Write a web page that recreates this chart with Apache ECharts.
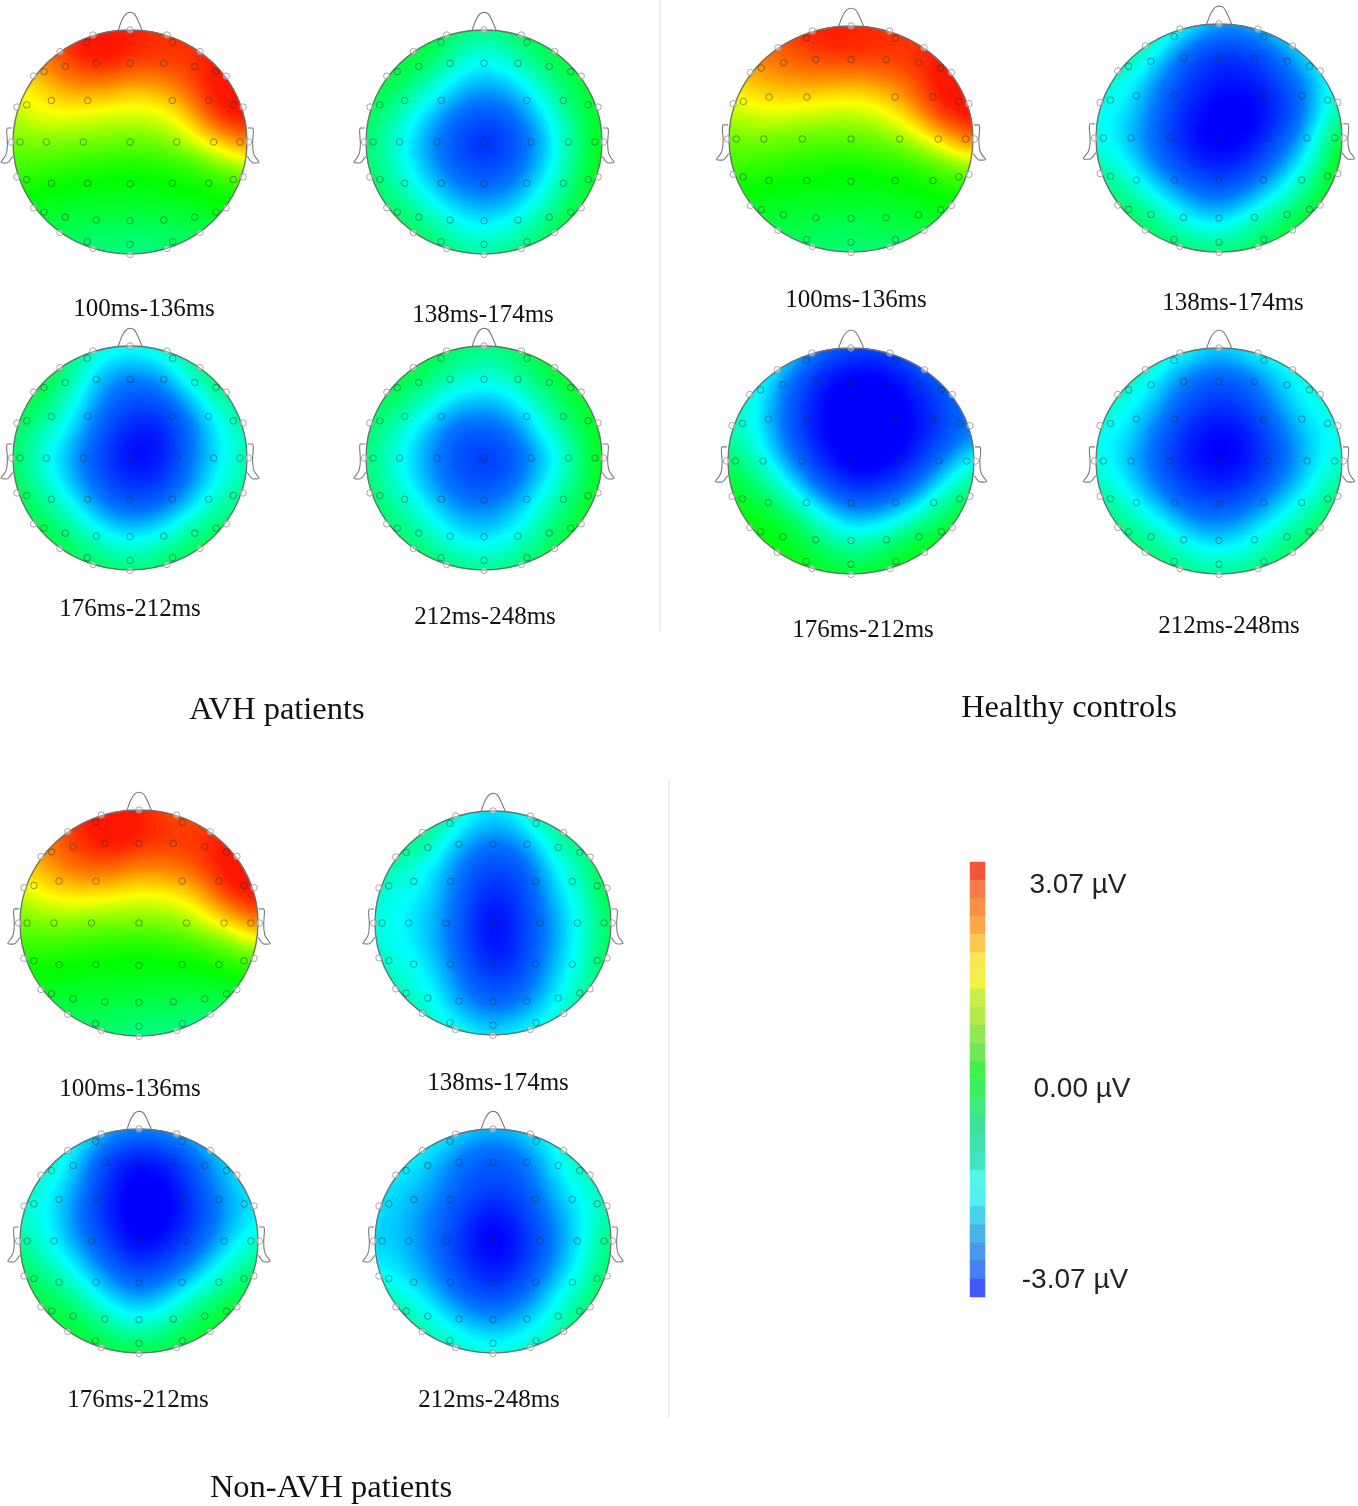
<!DOCTYPE html>
<html><head><meta charset="utf-8">
<style>html,body{margin:0;padding:0;background:#fff}#c{width:1358px;height:1506px}</style>
<script src="https://cdn.jsdelivr.net/npm/echarts@6/dist/echarts.min.js"></script>
</head><body><div id="c"></div>
<script>
const avh100=[[1.8,2.2,2.6,2.9,2.6,2.5,2.4,2.4,2.4],[1.6,2.0,2.5,2.9,2.6,2.5,2.5,2.7,2.7],[1.1,1.4,1.85,1.85,1.6,1.7,2.2,2.9,2.95],[.8,1.15,1.1,1,.95,1,1.45,2.7,2.85],[.5,.6,.55,.5,.45,.5,.85,1.4,2.0],[.3,.2,.1,.05,0,.05,.1,.3,.6],[0,-.05,-.1,-.1,-.1,-.1,-.05,0,.1],[-.3,-.3,-.3,-.35,-.4,-.35,-.3,-.25,-.2],[-.5,-.5,-.5,-.55,-.6,-.55,-.5,-.5,-.5]];
const avh138=[[-.3,-.2,-.2,-.4,-.6,-.4,-.2,-.2,-.2],[-.2,-.15,-.25,-.75,-1.1,-.8,-.35,-.2,-.1],[-.2,-.35,-.75,-1.3,-1.55,-1.35,-.8,-.3,-.1],[-.3,-.7,-1.25,-1.8,-2.1,-1.85,-1.2,-.5,-.1],[-.4,-.95,-1.55,-2.15,-2.6,-2.2,-1.5,-.65,0],[-.35,-.85,-1.4,-1.95,-2.2,-1.95,-1.3,-.55,0],[-.3,-.55,-1,-1.5,-1.7,-1.5,-.95,-.35,0],[-.3,-.3,-.5,-.95,-1.15,-.95,-.5,-.2,-.1],[-.3,-.3,-.35,-.5,-.7,-.5,-.35,-.2,-.1]];
const avh176=[[-.3,-.3,-.5,-.8,-1,-.8,-.5,-.4,-.4],[-.2,-.15,-.6,-1.45,-1.7,-1.55,-.85,-.3,-.3],[-.2,-.35,-.95,-1.7,-2.15,-2.1,-1.5,-.8,-.5],[-.35,-.75,-1.25,-2,-2.6,-2.7,-1.9,-1.15,-.7],[-.35,-1,-1.55,-2.25,-2.85,-2.7,-1.85,-1.2,-.75],[-.3,-.75,-1.35,-2,-2.45,-2.35,-1.7,-1,-.6],[-.2,-.4,-.9,-1.5,-1.8,-1.65,-1.1,-.6,-.4],[-.2,-.2,-.4,-.85,-1.1,-.85,-.45,-.25,-.3],[-.2,-.2,-.3,-.35,-.5,-.35,-.3,-.3,-.3]];
const avh212=[[-.3,-.2,-.3,-.4,-.55,-.4,-.25,-.1,-.1],[-.3,-.2,-.35,-.7,-.95,-.7,-.3,-.1,-.1],[-.35,-.4,-.85,-1.3,-1.45,-1.25,-.7,-.25,-.05],[-.4,-.8,-1.35,-1.95,-2.05,-1.75,-1.05,-.45,-.05],[-.5,-1,-1.55,-2.1,-2.45,-2.1,-1.45,-.75,0],[-.4,-.85,-1.4,-1.95,-2.15,-1.85,-1.15,-.55,-.05],[-.3,-.6,-1,-1.5,-1.65,-1.35,-.8,-.3,0],[-.3,-.35,-.6,-1.05,-1.2,-1,-.5,-.15,-.05],[-.3,-.3,-.35,-.45,-.6,-.4,-.25,-.1,-.1]];
const hc100=[[2,2.3,2.5,2.7,2.6,2.5,2.4,2.4,2.4],[1.7,2,2.2,2.5,2.6,2.5,2.5,2.7,2.7],[1.3,1.6,1.75,1.75,1.6,1.8,2.2,2.9,2.9],[.85,1.1,1.05,.95,.9,1.05,1.6,2.7,2.9],[.5,.55,.45,.4,.4,.5,.8,1.4,2.2],[.25,.2,.1,.05,0,.05,.1,.3,.6],[0,-.05,-.1,-.1,-.1,-.1,-.05,0,.1],[-.25,-.25,-.25,-.3,-.35,-.3,-.25,-.2,-.2],[-.45,-.45,-.45,-.5,-.55,-.5,-.45,-.45,-.45]];
const hc138=[[-.5,-.5,-.6,-1,-1.5,-1.4,-1.1,-.9,-.8],[-.5,-.6,-1.1,-2,-2.4,-2.3,-1.7,-1.1,-.8],[-.8,-1,-1.65,-2.3,-2.65,-2.65,-2.2,-1.5,-.8],[-1,-1.2,-1.85,-2.55,-2.95,-2.95,-2.5,-1.55,-.6],[-1,-1.35,-2,-2.7,-3,-2.85,-2.1,-1.25,-.05],[-.7,-1.05,-1.75,-2.3,-2.65,-2.3,-1.6,-.85,.1],[-.4,-.6,-1.1,-1.65,-1.95,-1.55,-1,-.4,.1],[-.3,-.3,-.5,-1.05,-1.2,-.8,-.35,-.1,.05],[-.3,-.3,-.3,-.4,-.45,-.35,-.2,-.1,-.05]];
const hc176=[[-.8,-.8,-1,-1.8,-2.05,-2.1,-1.8,-1.4,-1.2],[-.8,-.9,-1.75,-2.55,-2.95,-2.95,-2.4,-1.9,-1.5],[-.8,-1.1,-2,-2.75,-3.07,-3.07,-2.75,-2.2,-1.7],[-.7,-1.1,-2,-2.75,-3.07,-3.07,-2.85,-2.25,-1.7],[-.35,-.85,-1.6,-2.5,-3.05,-3,-2.5,-1.7,-.95],[-.1,-.4,-1,-1.8,-2.4,-2.3,-1.8,-.95,-.4],[0,-.05,-.35,-.95,-1.5,-1.35,-.9,-.35,-.1],[0,0,-.05,-.4,-.75,-.5,-.1,-.05,0],[0,0,0,-.1,-.2,-.1,0,0,0]];
const hc212=[[-.6,-.6,-.7,-1,-1.35,-1,-.8,-.8,-.8],[-.6,-.7,-1.15,-1.75,-2,-1.8,-1.25,-.9,-.8],[-.8,-1,-1.45,-2.15,-2.45,-2.2,-1.45,-1.05,-.9],[-1,-1.2,-1.85,-2.5,-2.9,-2.6,-1.85,-1.25,-1],[-1,-1.35,-2,-2.65,-2.95,-2.7,-2,-1.3,-.85],[-.7,-1.1,-1.75,-2.3,-2.5,-2.25,-1.6,-1.05,-.45],[-.4,-.7,-1.1,-1.7,-1.85,-1.55,-1.05,-.65,-.2],[-.4,-.4,-.55,-1.05,-1.25,-1,-.55,-.25,-.1],[-.4,-.4,-.4,-.5,-.6,-.5,-.4,-.2,-.1]];
const non100=[[1.6,2,2.6,2.9,2.6,2.3,2.2,2.3,2.3],[1.6,2.1,2.55,2.95,2.7,2.5,2.5,2.7,2.7],[1.4,1.75,2.2,2.2,1.9,2,2.3,2.9,2.95],[.85,1.25,1.3,1.25,1.1,1.15,1.45,2.55,2.85],[.45,.6,.55,.5,.5,.55,.85,1.25,2],[.2,.15,.1,.05,0,.05,.1,.3,.6],[0,-.05,-.1,-.1,-.1,-.1,-.1,-.05,0],[-.3,-.25,-.25,-.3,-.35,-.35,-.4,-.4,-.4],[-.5,-.5,-.5,-.5,-.6,-.6,-.7,-.7,-.7]];
const non138=[[-.5,-.4,-.5,-.9,-1.3,-.9,-.5,-.4,-.4],[-.5,-.4,-.75,-1.45,-1.75,-1.55,-.8,-.45,-.3],[-.7,-.85,-1.2,-1.85,-2.25,-2.05,-1.2,-.7,-.1],[-.9,-1.05,-1.3,-2,-2.6,-2.25,-1.4,-.9,-.15],[-1,-1.15,-1.45,-2.1,-2.95,-2.3,-1.6,-1,-.35],[-.9,-1.05,-1.4,-2.05,-2.8,-2.3,-1.55,-.95,-.2],[-.7,-.9,-1.2,-1.85,-2.35,-2.1,-1.35,-.85,-.2],[-.7,-.7,-1,-1.55,-1.9,-1.65,-1.15,-.6,-.4],[-.7,-.7,-.8,-1,-1.2,-1,-.8,-.6,-.5]];
const non176=[[-.7,-.8,-1,-1.4,-1.6,-1.45,-1.2,-1,-.9],[-.7,-.8,-1.3,-2.3,-2.7,-2.45,-1.8,-1.2,-1],[-.8,-1,-1.6,-2.5,-3.05,-2.85,-2.05,-1.4,-1.1],[-.9,-1.15,-1.8,-2.6,-3.07,-2.95,-2.25,-1.55,-1.15],[-.6,-1.05,-1.65,-2.3,-3,-2.6,-2,-1.3,-.85],[-.35,-.75,-1.2,-1.85,-2.3,-2,-1.45,-.85,-.4],[-.2,-.3,-.7,-1.3,-1.65,-1.3,-.75,-.35,-.2],[-.2,-.2,-.2,-.65,-.95,-.65,-.2,-.1,-.1],[-.2,-.2,-.2,-.2,-.25,-.2,-.2,-.1,-.1]];
const non212=[[-.9,-.9,-1,-1.2,-1.45,-1.2,-1,-.7,-.6],[-1,-1.05,-1.3,-1.85,-2.05,-1.85,-1.15,-.7,-.6],[-1.1,-1.3,-1.55,-2,-2.2,-2.05,-1.4,-.95,-.7],[-1.25,-1.4,-1.75,-2.25,-2.75,-2.3,-1.65,-1.15,-.7],[-1.3,-1.4,-1.85,-2.45,-3.05,-2.55,-1.8,-1.15,-.4],[-1.1,-1.3,-1.7,-2.3,-2.75,-2.35,-1.6,-1,-.3],[-.7,-.95,-1.35,-1.9,-2.15,-1.85,-1.2,-.65,-.2],[-.5,-.6,-.9,-1.3,-1.55,-1.3,-.9,-.4,-.2],[-.5,-.5,-.6,-.8,-.95,-.8,-.6,-.3,-.2]];
const sampleAxis=[-1,-.75,-.5,-.25,0,.25,.5,.75,1];

// Electrode positions on the unit head
const outerElectrodes=[[0,1],[-.316,.955],[.316,.955],[-.598,.807],[.598,.807],[-.823,.588],[.823,.588],[-.966,.312],[.966,.312],[-1.011,0],[1.011,0],[-.966,-.312],[.966,-.312],[-.823,-.588],[.823,-.588],[-.598,-.807],[.598,-.807],[-.316,-.95],[.316,-.95],[0,-1.003]];
const innerElectrodes=[[-.365,.89],[.365,.89],[-.735,.629],[.735,.629],[-.883,.332],[.883,.332],[-.94,0],[.94,0],[-.883,-.335],[.883,-.335],[-.735,-.626],[.735,-.626],[-.365,-.89],[.365,-.89],[0,-.914],[-.553,.674],[-.288,.703],[0,.703],[.288,.703],[.553,.674],[-.672,.371],[-.362,.371],[.362,.371],[.672,.371],[-.715,0],[-.399,0],[0,0],[.399,0],[.715,0],[-.672,-.368],[-.362,-.368],[0,-.374],[.362,-.368],[.672,-.368],[-.553,-.671],[-.288,-.697],[0,-.703],[.288,-.697],[.553,-.671]];
const noseOutline=[[-.1,1],[-.068,1.09],[-.034,1.143],[0,1.157],[.037,1.143],[.066,1.09],[.103,1]];
const earLeftOutline=[[-1.008,.125],[-1.046,.125],[-1.054,.095],[-1.048,-.009],[-1.06,-.113],[-1.103,-.181],[-1.054,-.187],[-1.003,-.128]];
const earRightOutline=[[1.008,.125],[1.046,.125],[1.054,.095],[1.048,-.009],[1.06,-.113],[1.103,-.181],[1.054,-.187],[1.003,-.128]];

// Colour scale of the maps
const mapStops=[[-3.07,0,0,255],[-2.8,0,0,255],[-1.75,0,120,255],[-1.1,0,255,255],[-.55,0,255,128],[0,0,255,0],[.6,128,255,0],[1.15,255,255,0],[1.9,255,130,0],[2.65,255,25,0],[3.07,255,15,0]];

// Colour bar
const barValues=[3.07,2.8,2.53,2.27,2,1.73,1.47,1.2,.93,.67,.4,.13,-.13,-.4,-.67,-.93,-1.2,-1.47,-1.73,-2,-2.27,-2.53,-2.8,-3.07];
const barColors=['#f4553a','#f97a4a','#fb9048','#fba848','#fcc850','#f6e84e','#f2f246','#c8ee4a','#b4ea4c','#92e852','#70e65a','#42f048','#3cee60','#40e880','#40e098','#40e0ac','#40e6c0','#50f6e6','#50f0f0','#48d0ea','#46b4e8','#4898ee','#4880f2','#4458f8'];

const panels=[
 {v:avh100,c:[130,142],r:[117,112],t:'100ms-136ms',l:[144,309]},
 {v:avh138,c:[484,142],r:[118,112],t:'138ms-174ms',l:[483,315]},
 {v:avh176,c:[130,458],r:[117,112],t:'176ms-212ms',l:[130,609]},
 {v:avh212,c:[484,458],r:[118,112],t:'212ms-248ms',l:[485,617]},
 {v:hc100,c:[851,139],r:[122,113],t:'100ms-136ms',l:[856,300]},
 {v:hc138,c:[1219,138],r:[123,114],t:'138ms-174ms',l:[1233,303]},
 {v:hc176,c:[851,461],r:[123,113],t:'176ms-212ms',l:[863,630]},
 {v:hc212,c:[1219,461],r:[123,113],t:'212ms-248ms',l:[1229,626]},
 {v:non100,c:[139,923],r:[119,113],t:'100ms-136ms',l:[130,1089]},
 {v:non138,c:[493,923],r:[118,112],t:'138ms-174ms',l:[498,1083]},
 {v:non176,c:[139,1241],r:[119,112],t:'176ms-212ms',l:[138,1400]},
 {v:non212,c:[493,1241],r:[118,112],t:'212ms-248ms',l:[489,1400]}
];
const groupTitles=[['AVH patients',277,710],['Healthy controls',1069,708],['Non-AVH patients',331,1488]];
const barLabels=[['3.07 µV',1078,885],['0.00 µV',1082,1089],['-3.07 µV',1075,1280]];
const dividers=[[660,0,660,631],[669,780,669,1418]];

function colorOf(v){
  for(let i=1;i<mapStops.length;i++){
    if(v<=mapStops[i][0]){
      const a=mapStops[i-1],b=mapStops[i],t=Math.max(0,(v-a[0])/(b[0]-a[0]));
      return [a[1]+(b[1]-a[1])*t,a[2]+(b[2]-a[2])*t,a[3]+(b[3]-a[3])*t];
    }
  }
  const e=mapStops[mapStops.length-1];return [e[1],e[2],e[3]];
}
// Cubic B-spline shading of the read samples, as a display step only (like line smoothing)
function bs(p0,p1,p2,p3,t){const u=1-t;return (u*u*u*p0+(3*t*t*t-6*t*t+4)*p1+(-3*t*t*t+3*t*t+3*t+1)*p2+t*t*t*p3)/6;}
function shade(rows,w,h){
  const cv=document.createElement('canvas');cv.width=w;cv.height=h;
  const ctx=cv.getContext('2d'),img=ctx.createImageData(w,h),n=rows.length;
  const at=(r,c)=>rows[Math.min(n-1,Math.max(0,r))][Math.min(n-1,Math.max(0,c))];
  for(let py=0;py<h;py++)for(let px=0;px<w;px++){
    const nx=(px+.5)/w*2-1,ny=(py+.5)/h*2-1,d=Math.sqrt(nx*nx+ny*ny);
    if(d>1.01)continue;
    const fx=(nx+1)*4,fy=(ny+1)*4,c=Math.min(7,Math.floor(fx)),r=Math.min(7,Math.floor(fy)),tx=fx-c,ty=fy-r;
    const row=[];
    for(let k=-1;k<3;k++)row.push(bs(at(r+k,c-1),at(r+k,c),at(r+k,c+1),at(r+k,c+2),tx));
    const v=bs(row[0],row[1],row[2],row[3],ty),col=colorOf(Math.round(v*25)/25),i=(py*w+px)*4;
    img.data[i]=col[0];img.data[i+1]=col[1];img.data[i+2]=col[2];
    img.data[i+3]=255*Math.min(1,Math.max(0,(1.005-d)*Math.min(w,h)/2+.5));
  }
  ctx.putImageData(img,0,0);return cv;
}

const grid=[],xAxis=[],yAxis=[],series=[],graphicEls=[];
const M=1.25;
panels.forEach((p,i)=>{
  grid.push({left:p.c[0]-M*p.r[0],top:p.c[1]-M*p.r[1],width:2*M*p.r[0],height:2*M*p.r[1],show:false,outerBoundsMode:'none'});
  xAxis.push({gridIndex:i,type:'value',min:-M,max:M,show:false});
  yAxis.push({gridIndex:i,type:'value',min:-M,max:M,show:false});
  const common={xAxisIndex:i,yAxisIndex:i,silent:true,animation:false};
  const pts=[];
  p.v.forEach((row,r)=>row.forEach((val,c)=>pts.push([sampleAxis[c],sampleAxis[8-r],val])));
  let tex=null;
  series.push({...common,type:'custom',data:pts,encode:{x:0,y:1},clip:false,z:1,
    renderItem(params,api){
      if(params.dataIndex!==0)return null;
      const a=api.coord([-1,1]),b=api.coord([1,-1]),w=b[0]-a[0],h=b[1]-a[1];
      tex=tex||shade(p.v,Math.round(w),Math.round(h));
      return {type:'group',children:[
        {type:'image',style:{image:tex,x:a[0],y:a[1],width:w,height:h}},
        {type:'ellipse',shape:{cx:(a[0]+b[0])/2,cy:(a[1]+b[1])/2,rx:w/2,ry:h/2},style:{fill:'none',stroke:'#6f6f6f',lineWidth:1.3}}
      ]};
    }});
  [noseOutline,earLeftOutline,earRightOutline].forEach(o=>series.push({...common,type:'line',data:o,smooth:.3,symbol:'none',z:2,lineStyle:{color:'#7a7a7a',width:1.1}}));
  series.push({...common,type:'scatter',data:outerElectrodes,symbol:'circle',symbolSize:6.5,z:3,itemStyle:{color:'rgba(255,255,255,.45)',borderColor:'#8f8f8f',borderWidth:1}});
  series.push({...common,type:'scatter',data:innerElectrodes,symbol:'circle',symbolSize:6.5,z:3,itemStyle:{color:'rgba(0,0,0,0)',borderColor:'rgba(20,50,40,.6)',borderWidth:1}});
  graphicEls.push({type:'text',x:p.l[0],y:p.l[1],style:{text:p.t,fontFamily:'"Liberation Serif"',fontSize:25,fill:'#111',textAlign:'center',textVerticalAlign:'middle'}});
});
// colour bar
const bi=panels.length;
grid.push({left:970,top:862,width:15,height:435,show:false,outerBoundsMode:'none'});
xAxis.push({gridIndex:bi,type:'category',data:['µV'],show:false});
yAxis.push({gridIndex:bi,type:'category',inverse:true,data:barValues.map(String),show:false});
series.push({type:'heatmap',xAxisIndex:bi,yAxisIndex:bi,silent:true,animation:false,data:barValues.map((v,i)=>[0,i,v])});
const barSeries=series.length-1;
groupTitles.forEach(t=>graphicEls.push({type:'text',x:t[1],y:t[2],style:{text:t[0],fontFamily:'"Liberation Serif"',fontSize:32.5,fill:'#111',textAlign:'center',textVerticalAlign:'middle'}}));
barLabels.forEach(t=>graphicEls.push({type:'text',x:t[1],y:t[2],style:{text:t[0],fontFamily:'"Liberation Sans"',fontSize:28,fill:'#222',textAlign:'center',textVerticalAlign:'middle'}}));
dividers.forEach(d=>graphicEls.push({type:'line',shape:{x1:d[0],y1:d[1],x2:d[2],y2:d[3]},style:{stroke:'#dddddd',lineWidth:1}}));

const chart=echarts.init(document.getElementById('c'),null,{renderer:'canvas'});
chart.setOption({animation:false,backgroundColor:'#fff',grid,xAxis,yAxis,series,
  visualMap:[{type:'piecewise',show:false,seriesIndex:barSeries,dimension:2,
    pieces:barValues.map((v,i)=>({value:v,color:barColors[i]}))}],
  graphic:{elements:graphicEls}});
</script></body></html>
